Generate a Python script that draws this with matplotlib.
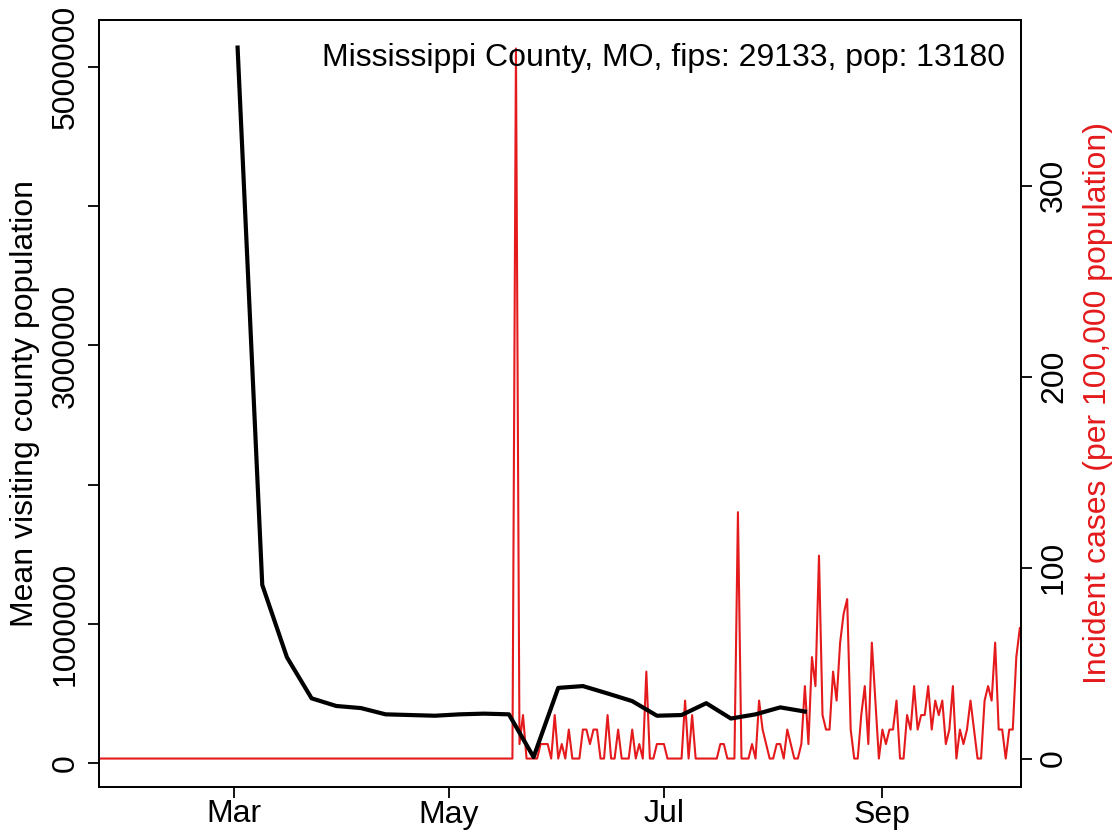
import numpy as np
import pandas as pd
import matplotlib
matplotlib.use("Agg")
import matplotlib.pyplot as plt

plt.rcParams["font.family"] = ["Liberation Sans", "DejaVu Sans"]

# ---- data ----
title_txt = "Mississippi County, MO, fips: 29133, pop: 13180"
pop = 13180

# weekly mean visiting county population (black line)
visit_dates = pd.date_range("2020-03-02", periods=24, freq="7D")
visit_pop = [5.14e6, 1.28e6, 0.76e6, 0.465e6, 0.41e6, 0.395e6, 0.35e6, 0.345e6,
             0.34e6, 0.35e6, 0.355e6, 0.35e6, 0.043e6, 0.54e6, 0.553e6, 0.50e6,
             0.445e6, 0.34e6, 0.345e6, 0.43e6, 0.32e6, 0.35e6, 0.40e6, 0.37e6]

# daily new cases (red line), 2020-01-23 .. 2020-10-10
case_dates = pd.date_range("2020-01-23", "2020-10-10", freq="D")
new_cases = ([0] * 118 +
             [49, 1, 3, 0, 0, 0, 0, 1, 1, 1, 0, 3, 0, 1, 0, 2, 0, 0, 0, 2,
              2, 1, 2, 2, 0, 0, 3, 0, 0, 2, 0, 0, 0, 2, 0, 1, 0, 6, 0, 0,
              1, 1, 1, 0, 0, 0, 0, 0, 4, 0, 3, 0, 0, 0, 0, 0, 0, 0, 1, 1,
              0, 0, 0, 17, 0, 0, 0, 1, 0, 4, 2, 1, 0, 0, 1, 1, 0, 2, 1, 0,
              0, 1, 5, 1, 7, 5, 14, 3, 2, 2, 6, 4, 8, 10, 11, 2, 0, 0, 3, 5,
              1, 8, 4, 0, 2, 1, 2, 2, 4, 0, 0, 3, 2, 5, 2, 3, 3, 5, 2, 4,
              3, 4, 1, 2, 5, 0, 2, 1, 2, 4, 2, 0, 0, 4, 5, 4, 8, 2, 2, 0,
              2, 2, 7, 9])
incidence = np.array(new_cases) * 100000 / pop

month_ticks = pd.to_datetime(["2020-03-01", "2020-05-01", "2020-07-01", "2020-09-01"])
month_labels = ["Mar", "May", "Jul", "Sep"]

# ---- plot ----
fig = plt.figure(figsize=(11.19, 8.32), dpi=100)
ax = fig.add_axes([99 / 1119, 45 / 832, 922 / 1119, 767 / 832])
ax2 = ax.twinx()

red = "#E41A1C"
fs = 23

ax2.plot(case_dates, incidence, color=red, lw=1.5)
ax.plot(visit_dates, visit_pop, color="black", lw=3.0, solid_joinstyle="round")

ax.set_zorder(ax2.get_zorder() + 1)
ax.patch.set_visible(False)

ax.set_xlim(case_dates[0] - pd.Timedelta(hours=8), case_dates[-1] + pd.Timedelta(hours=8))
ax.set_ylim(-0.172e6, 5.338e6)
ax2.set_ylim(-14.9, 386.7)

ax.set_xticks(month_ticks)
ax.set_xticklabels(month_labels)
ax.set_yticks([0, 1e6, 2e6, 3e6, 4e6, 5e6])
ax.set_yticklabels(["0", "1000000", "", "3000000", "", "5000000"])
ax2.set_yticks([0, 100, 200, 300])
ax2.set_yticklabels(["0", "100", "200", "300"])

for a in (ax, ax2):
    a.tick_params(direction="out", length=8, width=1.3, labelsize=fs, pad=5)
    for s in a.spines.values():
        s.set_linewidth(1.3)
ax.tick_params(axis="x", pad=1)
for lab in ax.get_yticklabels():
    lab.set_rotation(90)
    lab.set_va("center")
for lab in ax2.get_yticklabels():
    lab.set_rotation(90)
    lab.set_va("center")

ax.set_ylabel("Mean visiting county population", fontsize=fs, labelpad=8)
ax2.set_ylabel("Incident cases (per 100,000 population)", fontsize=fs, color=red,
               rotation=90, labelpad=10)

ax.text(0.983, 0.95, title_txt, transform=ax.transAxes, ha="right", va="center",
        fontsize=fs)

fig.savefig("out.png", dpi=100)
